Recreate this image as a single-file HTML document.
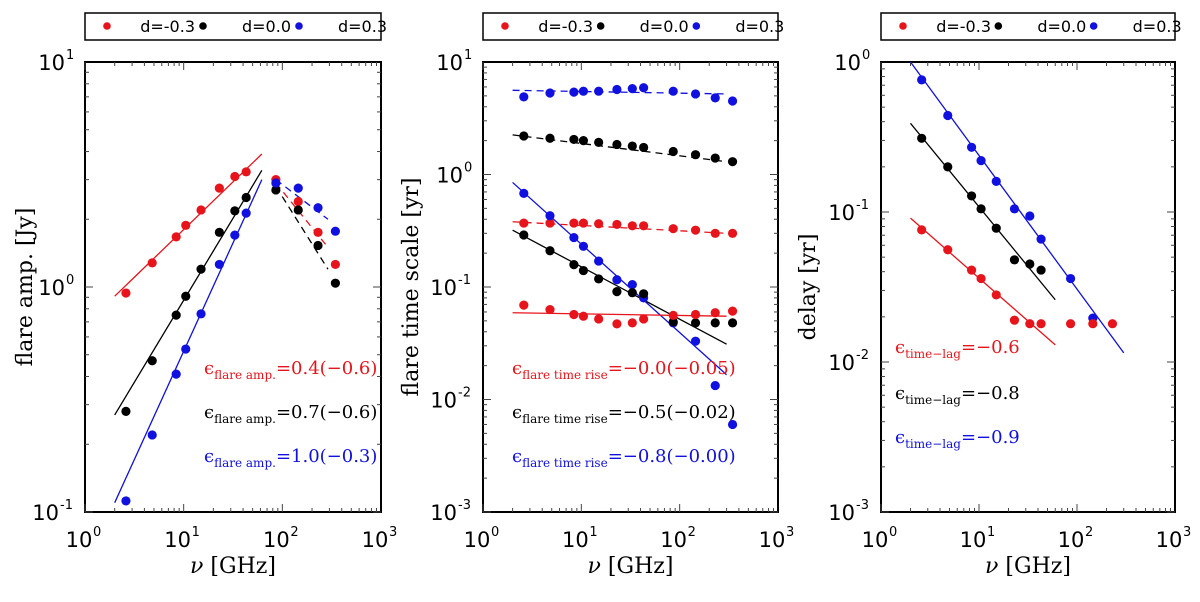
<!DOCTYPE html>
<html><head><meta charset="utf-8">
<style>
html,body{margin:0;padding:0;background:#fff;}
svg{display:block;}
.tk{font-family:"DejaVu Sans","Liberation Sans",sans-serif;font-size:21px;fill:#000;}
.tks{font-family:"DejaVu Sans","Liberation Sans",sans-serif;font-size:13px;fill:#000;}
.ttl{font-family:"DejaVu Serif","Liberation Serif",serif;font-size:22px;fill:#000;}
.lg{font-family:"DejaVu Sans","Liberation Sans",sans-serif;font-size:16px;fill:#000;}
.ann{font-family:"DejaVu Serif","Liberation Serif",serif;font-size:18px;}
.sub{font-size:12px;}
</style></head>
<body>
<svg id="fig" width="1200" height="602" viewBox="0 0 1200 602" xmlns="http://www.w3.org/2000/svg"></svg>
<script>
// ---- shared frequencies ----
const nu = [2.6,4.8,8.4,10.5,15,23,33,43,86,145,230,345];
// ---- panel 1: flare amplitude ----
const p1Red   = [0.94,1.28,1.67,1.88,2.2,2.75,3.1,3.25,3.0,2.4,1.75,1.26];
const p1Black = [0.28,0.47,0.75,0.91,1.2,1.75,2.18,2.5,2.7,2.2,1.53,1.04];
const p1Blue  = [0.112,0.22,0.41,0.53,0.76,1.26,1.7,2.13,2.9,2.75,2.25,1.77];
const p1FitSolidNu = [2,62];
const p1FitRed   = [0.91,3.9];
const p1FitBlack = [0.27,3.3];
const p1FitBlue  = [0.11,3.0];
const p1FitDashNu = [86,290];
const p1DashRed   = [2.9,1.5];
const p1DashBlack = [2.8,1.2];
const p1DashBlue  = [3.0,2.0];
// ---- panel 2: flare time scale ----
const p2BlueD  = [4.9,5.3,5.4,5.5,5.5,5.7,5.8,5.9,5.5,5.2,4.8,4.5];
const p2BlackD = [2.2,2.1,2.05,2.0,1.93,1.85,1.79,1.74,1.6,1.5,1.4,1.3];
const p2RedD   = [0.37,0.37,0.37,0.37,0.365,0.36,0.35,0.35,0.33,0.32,0.30,0.30];
const p2BlueS  = [0.68,0.43,0.275,0.23,0.17,0.116,0.105,0.08,0.048,0.033,0.0133,0.006];
const p2BlackS = [0.29,0.21,0.158,0.14,0.118,0.091,0.089,0.087,0.049,0.048,0.048,0.048];
const p2RedS   = [0.069,0.063,0.057,0.055,0.052,0.047,0.048,0.052,0.056,0.057,0.059,0.061];
const p2FitNu = [2,300];
const p2FitBlueS  = [0.85,0.0166];
const p2FitBlackS = [0.32,0.031];
const p2FitRedS   = [0.059,0.055];
const p2FitBlueD  = [5.6,5.2];
const p2FitBlackD = [2.25,1.3];
const p2FitRedD   = [0.38,0.30];
// ---- panel 3: delay ----
const p3Blue  = [0.76,0.44,0.27,0.22,0.16,0.105,0.094,0.066,0.036,0.0196];
const p3Black = [0.31,0.2,0.128,0.105,0.078,0.048,0.045,0.041];
const p3Red   = [0.076,0.056,0.041,0.036,0.028,0.019,0.018,0.018,0.018,0.018,0.018];
const p3FitBlueNu = [2,300];
const p3FitBlue = [1.0,0.0115];
const p3FitNu = [2,60];
const p3FitBlack = [0.39,0.026];
const p3FitRed = [0.091,0.013];
// tick labels
const xTickLabels = ["0","1","2","3"];

const RED="#e8141b", BLK="#000", BLU="#1010e0";
const NS="http://www.w3.org/2000/svg";
const svg=document.getElementById('fig');
function mk(tag,attrs,parent){const e=document.createElementNS(NS,tag);for(const k in attrs)e.setAttribute(k,attrs[k]);(parent||svg).appendChild(e);return e;}

function panel(o){
  const g=mk('g',{});
  
  
  const L=o.x0,R=o.x1,T=62,B=512;
  const xs=v=>L+(Math.log10(v)-0)/3*(R-L);
  const ys=v=>B-(Math.log10(v)-o.ymin)/(o.ymax-o.ymin)*(B-T);
  // legend
  const lg=mk('g',{},g);
  
  
  mk('rect',{x:L,y:13,width:R-L,height:27,fill:'#fff',stroke:'#000','stroke-width':1.5},lg);
  const ents=[[RED,"d=-0.3"],[BLK,"d=0.0"],[BLU,"d=0.3"]];
  ents.forEach((e,i)=>{
    const ex=L+22+i*(R-L-8)/3;
    const c=mk('circle',{cx:ex,cy:26,r:3.8,fill:e[0]},lg);
    
    
    const t=mk('text',{x:ex+88,y:32,'text-anchor':'end',class:'lg'},lg);
    
    
    t.textContent=e[1];
  });
  // axes box
  const ax=mk('rect',{x:L,y:T,width:R-L,height:B-T,fill:'none',stroke:'#000','stroke-width':2},g);
  
  
  // x ticks
  for(let d=0;d<3;d++){for(let m=1;m<10;m++){const v=Math.pow(10,d)*m;const x=xs(v);const len=m===1?8:4;
    mk('line',{x1:x,x2:x,y1:B,y2:B-len,stroke:'#444','stroke-width':1},g);
    mk('line',{x1:x,x2:x,y1:T,y2:T+len,stroke:'#444','stroke-width':1},g);}}
  xTickLabels.forEach((s,i)=>{
    const x=xs(Math.pow(10,i));
    const t=mk('text',{x:x-6,y:547,'text-anchor':'middle',class:'tk'},g);
    
    
    t.textContent="10";
    const s2=mk('text',{x:x+8,y:536,class:'tks'},g);s2.textContent=s;
  });
  // y ticks
  for(let d=o.ymin;d<o.ymax;d++){for(let m=1;m<10;m++){const v=Math.pow(10,d)*m;const y=ys(v);const len=m===1?8:4;
    mk('line',{x1:L,x2:L+len,y1:y,y2:y,stroke:'#444','stroke-width':1},g);
    mk('line',{x1:R,x2:R-len,y1:y,y2:y,stroke:'#444','stroke-width':1},g);}}
  for(let d=o.ymin;d<=o.ymax;d++){
    const y=ys(Math.pow(10,d));
    const sup=String(d);
    const t=mk('text',{x:L-(sup.length>1?26:20),y:y+8,'text-anchor':'end',class:'tk'},g);
    
    
    t.textContent="10";
    const s2=mk('text',{x:L-(sup.length>1?26:20)+1,y:y-3,class:'tks'},g);s2.textContent=sup;
  }
  // titles
  const xt=mk('text',{x:(L+R)/2,y:573,'text-anchor':'middle',class:'ttl'},g);
  
  
  xt.innerHTML='<tspan font-style="italic">ν</tspan> [GHz]';
  const yt=mk('text',{x:0,y:0,'text-anchor':'middle',class:'ttl',transform:`translate(${o.ytx},${(T+B)/2}) rotate(-90)`},g);
  
  
  yt.textContent=o.ytitle;
  // fit lines
  o.lines.forEach(l=>{
    const ln=mk('line',{x1:xs(l.nu[0]),x2:xs(l.nu[1]),y1:ys(l.v[0]),y2:ys(l.v[1]),stroke:l.c,'stroke-width':1.3,'stroke-dasharray':l.dash?'7,5':'none'},g);
    
    
  });
  // points
  o.series.forEach(s=>{
    s.v.forEach((v,i)=>{
      const c=mk('circle',{cx:xs(s.nu[i]),cy:ys(v),r:4.6,fill:s.c},g);
      
      
    });
  });
  // annotations
  o.ann.forEach(a=>{
    const t=mk('text',{x:a.x,y:a.y,class:'ann',fill:a.c},g);
    
    
    t.innerHTML=`ϵ<tspan class="sub" dy="5">${a.sub}</tspan><tspan dy="-5">${a.txt}</tspan>`;
  });
}

panel({name:'panel-flare-amplitude',x0:85,x1:381,ymin:-1,ymax:1,ytx:32,ytitle:'flare amp. [Jy]',
  series:[{nu:nu,v:p1Red,c:RED},{nu:nu,v:p1Black,c:BLK},{nu:nu,v:p1Blue,c:BLU}],
  lines:[{nu:p1FitSolidNu,v:p1FitRed,c:RED},{nu:p1FitSolidNu,v:p1FitBlack,c:BLK},{nu:p1FitSolidNu,v:p1FitBlue,c:BLU},
         {nu:p1FitDashNu,v:p1DashRed,c:RED,dash:1},{nu:p1FitDashNu,v:p1DashBlack,c:BLK,dash:1},{nu:p1FitDashNu,v:p1DashBlue,c:BLU,dash:1}],
  ann:[{x:204,y:374,c:RED,sub:'flare amp.',txt:'=0.4(−0.6)'},{x:204,y:418,c:BLK,sub:'flare amp.',txt:'=0.7(−0.6)'},{x:204,y:462,c:BLU,sub:'flare amp.',txt:'=1.0(−0.3)'}]});

panel({name:'panel-flare-time-scale',x0:483,x1:778,ymin:-3,ymax:1,ytx:418,ytitle:'flare time scale [yr]',
  series:[{nu:nu,v:p2BlueD,c:BLU},{nu:nu,v:p2BlackD,c:BLK},{nu:nu,v:p2RedD,c:RED},{nu:nu,v:p2BlueS,c:BLU},{nu:nu,v:p2BlackS,c:BLK},{nu:nu,v:p2RedS,c:RED}],
  lines:[{nu:p2FitNu,v:p2FitBlueS,c:BLU},{nu:p2FitNu,v:p2FitBlackS,c:BLK},{nu:p2FitNu,v:p2FitRedS,c:RED},
         {nu:p2FitNu,v:p2FitBlueD,c:BLU,dash:1},{nu:p2FitNu,v:p2FitBlackD,c:BLK,dash:1},{nu:p2FitNu,v:p2FitRedD,c:RED,dash:1}],
  ann:[{x:512,y:374,c:RED,sub:'flare time rise',txt:'=−0.0(−0.05)'},{x:512,y:418,c:BLK,sub:'flare time rise',txt:'=−0.5(−0.02)'},{x:512,y:462,c:BLU,sub:'flare time rise',txt:'=−0.8(−0.00)'}]});

panel({name:'panel-delay',x0:881,x1:1175,ymin:-3,ymax:0,ytx:815,ytitle:'delay [yr]',
  series:[{nu:nu,v:p3Blue,c:BLU},{nu:nu,v:p3Black,c:BLK},{nu:nu,v:p3Red,c:RED}],
  lines:[{nu:p3FitBlueNu,v:p3FitBlue,c:BLU},{nu:p3FitNu,v:p3FitBlack,c:BLK},{nu:p3FitNu,v:p3FitRed,c:RED}],
  ann:[{x:895,y:353,c:RED,sub:'time−lag',txt:'=−0.6'},{x:895,y:399,c:BLK,sub:'time−lag',txt:'=−0.8'},{x:895,y:443,c:BLU,sub:'time−lag',txt:'=−0.9'}]});
</script>
</body></html>
